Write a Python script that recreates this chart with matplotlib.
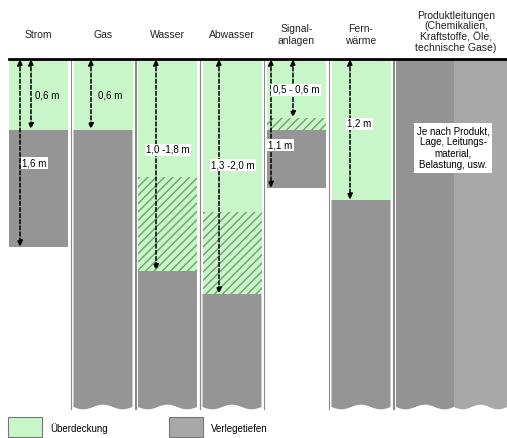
import numpy as np
import matplotlib.pyplot as plt
from matplotlib.patches import Rectangle, Polygon

plt.rcParams['font.family'] = ['Liberation Sans', 'DejaVu Sans']
plt.rcParams['hatch.linewidth'] = 1.0

# Leitungsarten und Tiefen (in m)
names = ['Strom', 'Gas', 'Wasser', 'Abwasser', 'Signal-\nanlagen', 'Fern-\nwärme']
cover_min = [0.6, 0.6, 1.0, 1.3, 0.5, 1.2]     # Beginn Schraffur / Verlegung
cover_max = [0.6, 0.6, 1.8, 2.0, 0.6, 1.2]     # Ende Schraffur
depth_end = [1.6, None, None, None, 1.1, None]  # Ende Verlegetiefe (None = durchgehend)
labels = ['1,6 m', '0,6 m', '1,0 -1,8 m', '1,3 -2,0 m', '1,1 m', '1,2 m']
extra_labels = {0: '0,6 m', 4: '0,5 - 0,6 m'}
prod_title = 'Produktleitungen\n(Chemikalien,\nKraftstoffe, Öle,\ntechnische Gase)'
prod_text = 'Je nach Produkt,\nLage, Leitungs-\nmaterial,\nBelastung, usw.'
legend_labels = ['Überdeckung', 'Verlegetiefen']

GREEN = '#c8f6c8'
GRAY = '#959595'
GRAY_LIGHT = '#a8a8a8'
HATCH = '#6f9f6f'

PX_PER_M = 117.5
TOP = 59
FS_HEAD = 7.5
FS = 7

def ym(px):
    return (px - TOP) / PX_PER_M

fig = plt.figure(figsize=(5.07, 4.38), dpi=100)
ax = fig.add_axes([0, 0, 1, 1])
ax.set_xlim(0, 507)
ax.set_ylim(ym(438), ym(0))
ax.axis('off')

bottom = ym(407)
col_w = 59
pitch = 64.5
x_start = 9

def wavy(x0, x1, top):
    xs = np.linspace(x0, x1, 30)
    ys = bottom + 0.02 * np.sin((xs - x0) / (x1 - x0) * 2 * np.pi * 1.5)
    pts = [(x0, top)] + list(zip(xs, ys)) + [(x1, top)]
    return pts

def arrow(x, y0, y1):
    ax.annotate('', xy=(x, y1), xytext=(x, y0),
                arrowprops=dict(arrowstyle='<|-|>,head_length=0.35,head_width=0.15',
                                color='black', lw=1.1, linestyle=(0, (2.5, 1.5)),
                                shrinkA=0, shrinkB=0))

box = dict(boxstyle='square,pad=0.15', fc='white', ec='none')

for i, name in enumerate(names):
    x0 = x_start + i * pitch
    x1 = x0 + col_w
    cx = x0 + col_w / 2
    ax.text(cx, ym(35), name, ha='center', va='center', fontsize=FS_HEAD, color='#222222')

    if depth_end[i] is None:
        # Umrandung
        for xl in (x0 - 2.5, x1 + 2.5):
            ax.plot([xl, xl], [0, bottom + 0.02], color='#8a8a8a', lw=0.8)
        ax.add_patch(Polygon(wavy(x0, x1, cover_max[i]), closed=True, fc=GRAY, ec='none'))
    else:
        ax.add_patch(Rectangle((x0, cover_max[i]), col_w, depth_end[i] - cover_max[i],
                               fc=GRAY, ec='none'))
    ax.add_patch(Rectangle((x0, 0), col_w, cover_min[i], fc=GREEN, ec='none'))
    if cover_max[i] > cover_min[i]:
        ax.add_patch(Rectangle((x0, cover_min[i]), col_w, cover_max[i] - cover_min[i],
                               fc=GREEN, ec=HATCH, hatch='////', lw=0))

# Pfeile und Beschriftungen
arrow(20, 0, depth_end[0])
arrow(31, 0, cover_min[0])
ax.text(35, ym(95), extra_labels[0], fontsize=FS, va='center')
ax.text(22, ym(163), labels[0], fontsize=FS, va='center', bbox=box)

arrow(91, 0, cover_min[1])
ax.text(98, ym(95), labels[1], fontsize=FS, va='center')

arrow(156, 0, cover_max[2])
ax.text(168, ym(150), labels[2], fontsize=FS, va='center', ha='center', bbox=box)

arrow(219, 0, cover_max[3])
ax.text(233, ym(165), labels[3], fontsize=FS, va='center', ha='center', bbox=box)

arrow(271, 0, depth_end[4])
arrow(293, 0, cover_min[4])
ax.text(296, ym(90), extra_labels[4], fontsize=FS, va='center', ha='center', bbox=box)
ax.text(268, ym(145), labels[4], fontsize=FS, va='center', bbox=box)

arrow(350, 0, cover_max[5])
ax.text(347, ym(124), labels[5], fontsize=FS, va='center', bbox=box)

# Produktleitungen
px0 = x_start + 6 * pitch
ax.plot([px0 - 2.5, px0 - 2.5], [0, bottom + 0.02], color='#8a8a8a', lw=0.8)
ax.add_patch(Polygon(wavy(px0, 454, 0), closed=True, fc='#939393', ec='none'))
ax.add_patch(Polygon(wavy(454, 507, 0), closed=True, fc=GRAY_LIGHT, ec='none'))
ax.text(456, ym(32), prod_title, ha='center', va='center', fontsize=FS_HEAD,
        color='#222222', linespacing=1.1)
ax.text(453, ym(148), prod_text, ha='center', va='center', fontsize=FS,
        linespacing=1.15, bbox=dict(boxstyle='square,pad=0.3', fc='white', ec='none'))

# Geländeoberkante
ax.plot([9, 507], [0, 0], color='black', lw=2)

# Legende
ax.add_patch(Rectangle((8, ym(437)), 34, ym(417) - ym(437), fc=GREEN, ec='#777777', lw=0.8))
ax.text(50, ym(429), legend_labels[0], fontsize=FS, va='center')
ax.add_patch(Rectangle((169, ym(437)), 34, ym(417) - ym(437), fc=GRAY_LIGHT, ec='#777777', lw=0.8))
ax.text(211, ym(429), legend_labels[1], fontsize=FS, va='center')

fig.savefig('out.png', dpi=100)
